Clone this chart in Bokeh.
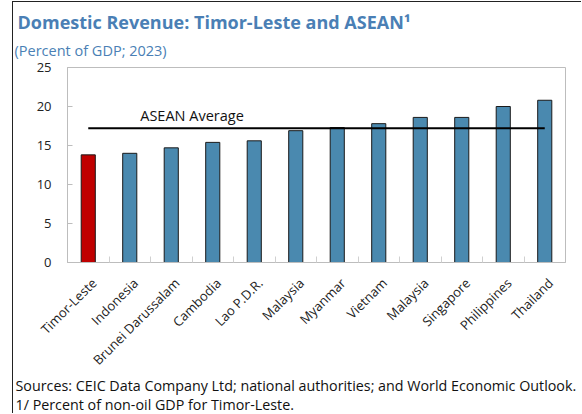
import math
from bokeh.plotting import figure
from bokeh.models import Range1d, FixedTicker, Title, ColumnDataSource
from bokeh.embed import file_html
from bokeh.resources import INLINE

# ---- data ----
countries = ["Timor-Leste", "Indonesia", "Brunei Darussalam", "Cambodia", "Lao P.D.R.",
             "Malaysia", "Myanmar", "Vietnam", "Malaysia", "Singapore", "Philippines", "Thailand"]
revenue = [13.8, 14.0, 14.7, 15.4, 15.6, 16.9, 17.3, 17.8, 18.6, 18.6, 20.0, 20.8]
asean_average = 17.2
y_ticks = [0, 5, 10, 15, 20, 25]

title_text = "Domestic Revenue: Timor-Leste and ASEAN\u00b9"
subtitle_text = "(Percent of GDP; 2023)"
source_text = "Sources: CEIC Data Company Ltd; national authorities; and World Economic Outlook."
note_text = "1/ Percent of non-oil GDP for Timor-Leste."

BLUE = "#4A89AF"
RED = "#C00000"
TITLE_BLUE = "#4A7FB5"
FONT = "Open Sans"

xs = list(range(len(countries)))
colors = [RED if c == "Timor-Leste" else BLUE for c in countries]
src = ColumnDataSource(dict(x=xs, top=revenue, color=colors))

# canvas sits at page (13, 2): 12px margin + 1px left border, 1px margin + 1px top border
W, H = 569, 412
FL, FB = 54, 260
p = figure(width=W, height=H, output_backend="svg", toolbar_location=None, title=None,
           x_range=Range1d(-0.5, len(countries) - 0.5), y_range=Range1d(0, 25),
           min_border_left=FL, min_border_right=17, min_border_top=65,
           min_border_bottom=H - FB)
p.styles = {"margin-top": "1px", "margin-left": "12px",
            "border-left": "1px solid #222222", "border-top": "1px solid #222222"}
p.background_fill_color = "white"
p.border_fill_color = "white"
p.outline_line_color = "#BDBDBD"
p.outline_line_width = 1
p.grid.visible = False

p.vbar(x="x", top="top", bottom=0, width=0.34, fill_color="color", line_color="#1a1a1a",
       line_width=1, source=src)

p.line(x=[xs[0], xs[-1]], y=[asean_average, asean_average], line_color="black", line_width=2)
p.text(x=[2.5], y=[asean_average + 1.65], text=["ASEAN Average"], text_align="center",
       text_baseline="middle", text_font_size="14.5px", text_color="#111111",
       text_font={"value": FONT})

# category labels sit slightly right of the bar centre, as in the original
label_shift = 0.14
xa = p.xaxis[0]
label_pos = [i + label_shift for i in xs]
xa.ticker = FixedTicker(ticks=label_pos, minor_ticks=[i + 0.5 for i in xs[:-1]])
xa.major_label_overrides = {pos: c for pos, c in zip(label_pos, countries)}
xa.major_label_orientation = math.pi / 4
xa.major_tick_line_color = None
xa.minor_tick_line_color = "#D0D0D0"
xa.minor_tick_in = 6
xa.minor_tick_out = 0
xa.axis_line_color = "#BDBDBD"
xa.major_label_text_font = FONT
xa.major_label_text_font_size = "13px"
xa.major_label_text_color = "#222222"
xa.major_label_standoff = 12

ya = p.yaxis[0]
ya.ticker = FixedTicker(ticks=y_ticks)
ya.major_tick_in = 5
ya.major_tick_out = 0
ya.major_tick_line_color = "#BDBDBD"
ya.minor_tick_line_color = None
ya.axis_line_color = "#BDBDBD"
ya.major_label_text_font = FONT
ya.major_label_text_font_size = "13px"
ya.major_label_text_color = "#222222"
ya.major_label_standoff = 16

# titles above
p.add_layout(Title(text=subtitle_text, align="left", offset=-53, text_font=FONT,
                   text_font_size="14.5px", text_font_style="normal", text_color=TITLE_BLUE,
                   standoff=16), "above")
p.add_layout(Title(text=title_text, align="left", offset=-50, text_font=FONT,
                   text_font_size="18px", text_font_style="bold", text_color=TITLE_BLUE,
                   standoff=-6), "above")
# notes below (two lines in one block)
p.add_layout(Title(text=source_text + "\n" + note_text, align="left", offset=-52,
                   text_font=FONT, text_font_size="14.3px", text_font_style="normal",
                   text_color="#111111", text_line_height=1.0, standoff=-9), "below")

open("out.html", "w").write(file_html(p, INLINE))
